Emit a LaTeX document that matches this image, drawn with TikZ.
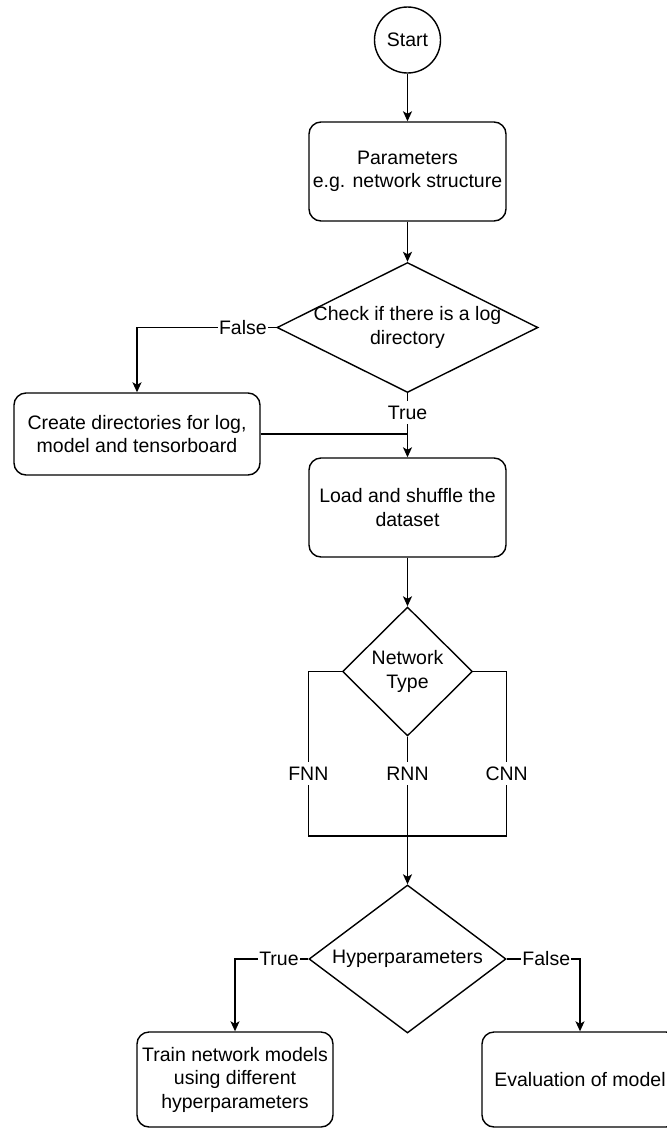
\documentclass[tikz,border=0pt]{standalone}
\usepackage{fontspec}
\setmainfont{Liberation Sans}
\usetikzlibrary{shapes.geometric, arrows.meta}

\begin{document}
\begin{tikzpicture}[x=1pt, y=-1pt, line width=1.4pt,
        every node/.style={font=\fontsize{19.5}{23.5}\selectfont},
        box/.style={draw, rectangle, rounded corners=12pt, align=center,
            minimum width=197pt, minimum height=99pt, inner sep=0pt},
        decision/.style={draw, diamond, align=center, shape aspect=2,
            inner xsep=-30pt, inner ysep=-10pt},
        terminal/.style={draw, circle, minimum size=66pt, inner sep=0pt},
        lbl/.style={fill=white, inner xsep=1pt, inner ysep=5pt},
        flow/.style={-{Stealth[length=10pt, width=9pt, inset=2.5pt]}}]
        \useasboundingbox (0,0) rectangle (667,1128);
        \clip (0,0) rectangle (667,1128);

        % Inicio e parametros.
        \node[terminal] (start) at (407.5,40) {Start};
        \node[box] (params) at (407.5,171.5) {Parameters\\e.g. network structure};

        % Diretorio de log.
        \node[decision, minimum width=261pt, minimum height=130pt] (checklog)
            at (407.5,327.5) {Check if there is a log\\directory};
        \node[box, minimum width=246pt, minimum height=82pt] (createdirs)
            at (137,434) {Create directories for log,\\model and tensorboard};

        % Dados e tipo de rede.
        \node[box] (load) at (407.5,507.5) {Load and shuffle the\\dataset};
        \node[decision, minimum width=130pt, minimum height=129pt] (nettype)
            at (407.5,671.5) {Network\\Type};
        \coordinate (merge) at (407.5,836);

        % Hiperparametros.
        \node[decision, minimum width=197pt, minimum height=148pt] (hyper)
            at (407.5,959) {Hyperparameters};
        \node[box, minimum width=196pt, minimum height=95pt] (train)
            at (235,1079.5) {Train network models\\using different\\hyperparameters};
        \node[box, minimum width=196pt, minimum height=95pt] (eval)
            at (580,1079.5) {Evaluation of model};

        % Ligacoes.
        \draw[flow] (start) -- (params);
        \draw[flow] (params) -- (checklog);
        \draw[flow] (checklog.west) -| node[lbl, pos=0.12] {False} (createdirs.north);
        \draw[flow] (checklog.south) -- node[lbl, pos=0.3] {True} (load.north);
        \draw (createdirs.east) -- (createdirs.east -| load.north);
        \draw[flow] (load) -- (nettype);

        \draw (nettype.west) -| node[lbl, pos=0.81] {FNN} (load.west |- merge)
            -- (load.east |- merge);
        \draw (nettype.east) -| node[lbl, pos=0.81] {CNN} (load.east |- merge);
        \draw[flow] (nettype.south) -- node[lbl, pos=0.25] {RNN} (hyper.north);

        \draw[flow] (hyper.west) -| node[lbl, pos=0.2] {True} (train.north);
        \draw[flow] (hyper.east) -| node[lbl, pos=0.27] {False} (eval.north);
    \end{tikzpicture}
\end{document}
